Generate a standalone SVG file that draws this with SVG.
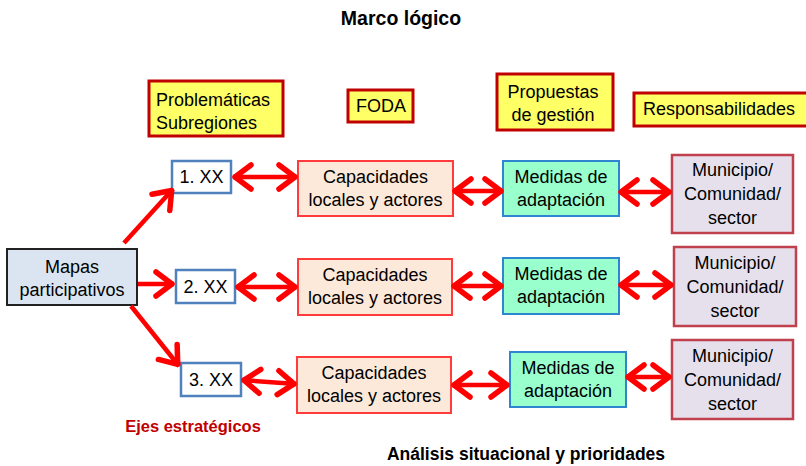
<svg xmlns="http://www.w3.org/2000/svg" width="806" height="466" viewBox="0 0 806 466">
<defs>
<marker id="ah" markerUnits="userSpaceOnUse" viewBox="0 0 26 28" markerWidth="26" markerHeight="28" refX="22" refY="14" orient="auto-start-reverse" overflow="visible">
<path d="M4,2 L20,14 L4,26" fill="none" stroke="#ff0000" stroke-width="5.5" stroke-linejoin="round" stroke-linecap="round"/>
</marker>
</defs>
<style>
text{font-family:"Liberation Sans",Arial,sans-serif;font-size:18px;fill:#000}
.c{text-anchor:middle}
.b{font-weight:bold}
.hdr rect{fill:#ffff66;stroke:#c00000;stroke-width:3}
.xx rect{fill:#fff;stroke:#4f81bd;stroke-width:2.5}
.cap rect{fill:#fde9d9;stroke:#ff3b3b;stroke-width:2}
.med rect{fill:#99ffcc;stroke:#2e86d0;stroke-width:2}
.mun rect{fill:#e5e0ec;stroke:#c0404d;stroke-width:2.5}
#conn line{stroke:#ff0000;stroke-width:4.5;fill:none}
.d{marker-start:url(#ah);marker-end:url(#ah)}
.s{marker-end:url(#ah)}
</style>
<rect width="806" height="466" fill="#fff"/>
<text class="c b" x="401" y="25" style="font-size:19.5px">Marco lógico</text>

<g id="h1" class="hdr"><rect x="149" y="81" width="134" height="55"/><text x="156" y="106">Problemáticas</text><text x="156" y="129">Subregiones</text></g>
<g id="h2" class="hdr"><rect x="348" y="90" width="65" height="32"/><text class="c" x="381" y="112">FODA</text></g>
<g id="h3" class="hdr"><rect x="497" y="74" width="116" height="56"/><text class="c" x="553" y="98">Propuestas</text><text class="c" x="553" y="121">de gestión</text></g>
<g id="h4" class="hdr"><rect x="634" y="93" width="174" height="33"/><text x="643" y="115">Responsabilidades</text></g>

<g id="mapas"><rect x="7" y="249" width="130" height="56" fill="#dbe5f1" stroke="#222" stroke-width="2"/><text class="c" x="72" y="273">Mapas</text><text class="c" x="72" y="296">participativos</text></g>

<g id="xx1" class="xx"><rect x="172" y="161" width="59" height="32"/><text class="c" x="201.5" y="183">1. XX</text></g>
<g id="xx2" class="xx"><rect x="176" y="270" width="59" height="33"/><text class="c" x="205.5" y="293">2. XX</text></g>
<g id="xx3" class="xx"><rect x="181" y="363" width="60" height="33"/><text class="c" x="211" y="386">3. XX</text></g>

<g id="cap1" class="cap"><rect x="298" y="161" width="155" height="55"/><text class="c" x="375.5" y="183">Capacidades</text><text class="c" x="375.5" y="206">locales y actores</text></g>
<g id="cap2" class="cap"><rect x="298" y="259" width="154" height="56"/><text class="c" x="375" y="281">Capacidades</text><text class="c" x="375" y="304">locales y actores</text></g>
<g id="cap3" class="cap"><rect x="297" y="357" width="154" height="56"/><text class="c" x="374" y="379">Capacidades</text><text class="c" x="374" y="402">locales y actores</text></g>

<g id="med1" class="med"><rect x="503" y="161" width="116" height="55"/><text class="c" x="561" y="183">Medidas de</text><text class="c" x="561" y="206">adaptación</text></g>
<g id="med2" class="med"><rect x="503" y="258" width="116" height="56"/><text class="c" x="561" y="280">Medidas de</text><text class="c" x="561" y="303">adaptación</text></g>
<g id="med3" class="med"><rect x="510" y="352" width="116" height="55"/><text class="c" x="568" y="374">Medidas de</text><text class="c" x="568" y="397">adaptación</text></g>

<g id="mun1" class="mun"><rect x="672" y="155" width="121" height="78"/><text class="c" x="732.5" y="176">Municipio/</text><text class="c" x="732.5" y="200">Comunidad/</text><text class="c" x="732.5" y="224">sector</text></g>
<g id="mun2" class="mun"><rect x="674" y="247" width="122" height="79"/><text class="c" x="735" y="269">Municipio/</text><text class="c" x="735" y="293">Comunidad/</text><text class="c" x="735" y="317">sector</text></g>
<g id="mun3" class="mun"><rect x="672" y="340" width="121" height="79"/><text class="c" x="732.5" y="362">Municipio/</text><text class="c" x="732.5" y="386">Comunidad/</text><text class="c" x="732.5" y="410">sector</text></g>

<g id="conn">
<line class="s" x1="124" y1="243" x2="173" y2="189"/>
<line class="s" x1="138" y1="284" x2="174" y2="284"/>
<line class="s" x1="131" y1="306" x2="179" y2="366"/>
<line class="d" x1="233" y1="177" x2="297" y2="177"/>
<line class="d" x1="453" y1="191" x2="503" y2="191"/>
<line class="d" x1="619" y1="192" x2="671" y2="192"/>
<line class="d" x1="236" y1="287" x2="297" y2="287"/>
<line class="d" x1="452" y1="286" x2="503" y2="286"/>
<line class="d" x1="619" y1="285" x2="673" y2="285"/>
<line class="d" x1="242" y1="380" x2="296" y2="384"/>
<line class="d" x1="452" y1="385" x2="509" y2="385"/>
<line class="d" x1="626" y1="377" x2="671" y2="377"/>
</g>

<text class="c b" x="193" y="432" style="font-size:16.5px;fill:#c00000">Ejes estratégicos</text>
<text class="c b" x="526" y="460" style="font-size:17.5px">Análisis situacional y prioridades</text>
</svg>
